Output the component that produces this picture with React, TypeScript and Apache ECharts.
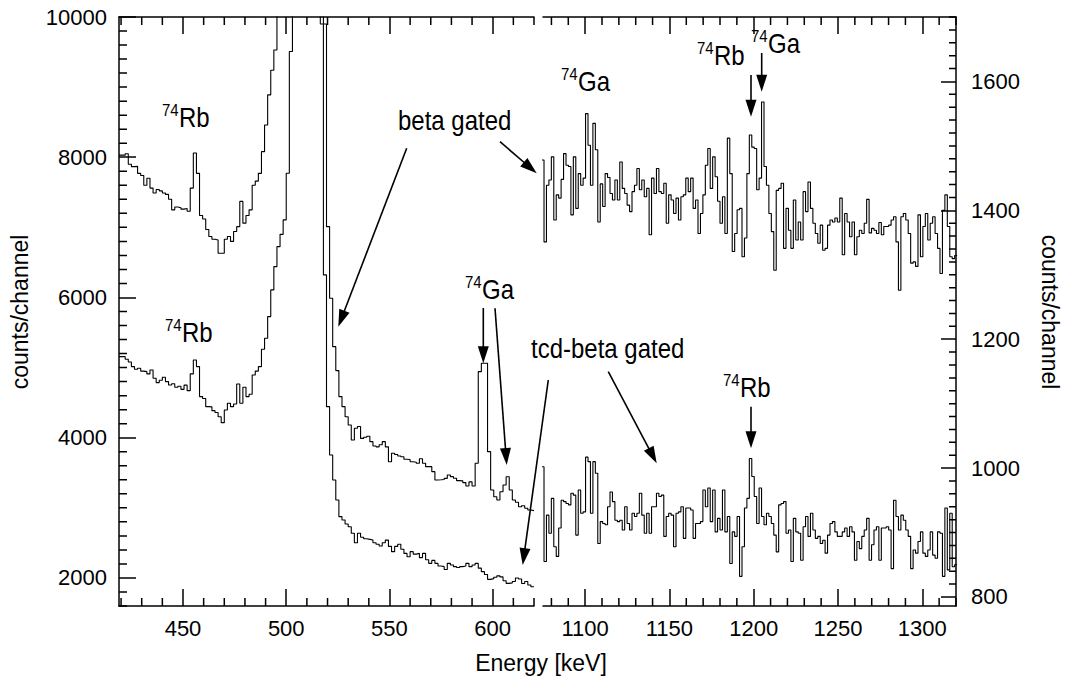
import React, { useEffect, useRef } from "react";
import * as echarts from "echarts";

// ---------------- axis ranges & ticks ----------------
const leftXRange = [419, 620];
const rightXRange = [1075, 1320];
const leftYRange = [1600, 10000];
const rightYRange = [786, 1700];

const leftMajorX = [450, 500, 550, 600];
const rightMajorX = [1100, 1150, 1200, 1250, 1300];
const leftMajorY = [2000, 4000, 6000, 8000, 10000];
const rightMajorY = [800, 1000, 1200, 1400, 1600];

const leftMinorX = [420, 430, 440, 460, 470, 480, 490, 510, 520, 530, 540, 560, 570, 580, 590, 610, 620];
const rightMinorX = [1080, 1090, 1110, 1120, 1130, 1140, 1160, 1170, 1180, 1190, 1210, 1220, 1230, 1240, 1260, 1270, 1280, 1290, 1310, 1320];
const leftMinorY = [1600, 1800, 2200, 2400, 2600, 2800, 3000, 3200, 3400, 3600, 3800, 4200, 4400, 4600, 4800, 5000, 5200, 5400, 5600, 5800, 6200, 6400, 6600, 6800, 7000, 7200, 7400, 7600, 7800, 8200, 8400, 8600, 8800, 9000, 9200, 9400, 9600, 9800];
const rightMinorY = [820, 840, 860, 880, 900, 920, 940, 960, 980, 1020, 1040, 1060, 1080, 1100, 1120, 1140, 1160, 1180, 1220, 1240, 1260, 1280, 1300, 1320, 1340, 1360, 1380, 1420, 1440, 1460, 1480, 1500, 1520, 1540, 1560, 1580, 1620, 1640, 1660, 1680, 1700];

// ---------------- histogram data (counts/channel per bin) ----------------
const leftBinStart = 419;
const leftBinWidth = 1.5;
const leftBetaGated = [
  8030, 8030, 8050, 7900, 7866, 7870, 7770, 7740, 7600, 7700,
  7560, 7490, 7540, 7520, 7490, 7470, 7400, 7250, 7290, 7280,
  7260, 7270, 7230, 7560, 8060, 7770, 7170, 7120, 6970, 6870,
  6830, 6820, 6630, 6630, 6830, 6870, 6800, 6940, 7010, 7370,
  7060, 7170, 7250, 7600, 7660, 7770, 8080, 8460, 8890, 9240,
  9530, 10500, 13000, 16000, 20000, 24000, 30000, 40000, 50000, 60000,
  60000, 50000, 40000, 30000, 20000, 9900, 9900, 7010, 5989, 5299,
  4957, 4586, 4443, 4300, 4182, 3968, 4135, 4160, 3990, 4006,
  4020, 3944, 3882, 3870, 3900, 3944, 3870, 3658, 3778, 3760,
  3740, 3729, 3692, 3690, 3658, 3650, 3635, 3700, 3635, 3587,
  3587, 3516, 3397, 3400, 3404, 3420, 3469, 3445, 3421, 3388,
  3385, 3360, 3312, 3370, 3312, 3635, 4942, 5062, 5062, 3801,
  3254, 3159, 3112, 3230, 3326, 3444, 3254, 3112, 3080, 3016,
  3030, 2995, 2969, 2960,
];
const leftTcdBetaGated = [
  5156, 5156, 5120, 5080, 5014, 4976, 4990, 4950, 4942, 4910,
  4966, 4848, 4786, 4820, 4862, 4800, 4752, 4770, 4719, 4735,
  4690, 4750, 4671, 4910, 5109, 5014, 4586, 4560, 4443, 4440,
  4386, 4360, 4300, 4215, 4396, 4491, 4443, 4480, 4767, 4491,
  4719, 4586, 4620, 4895, 4950, 5014, 5262, 5419, 5727, 6108,
  6440, 6725, 6900, 7106, 7772, 9508, 14000, 20000, 30000, 40000,
  50000, 50000, 40000, 30000, 20000, 14000, 6322, 4443, 3754, 3397,
  3112, 2874, 2827, 2770, 2731, 2637, 2503, 2637, 2580, 2560,
  2550, 2540, 2503, 2480, 2456, 2503, 2540, 2450, 2375, 2450,
  2480, 2410, 2350, 2303, 2375, 2340, 2350, 2290, 2350, 2260,
  2208, 2250, 2208, 2170, 2161, 2120, 2208, 2185, 2161, 2150,
  2161, 2170, 2208, 2161, 2185, 2208, 2140, 2090, 2050, 1980,
  1990, 2010, 2030, 2015, 1960, 1923, 1930, 1950, 2000, 1985,
  1920, 1950, 1900, 1875,
];

const rightBinStart = 1074.15;
const rightBinWidth = 1.45;
const rightBetaGated = [
  1478,
  1351, 1439, 1447, 1483, 1385, 1424, 1419, 1448, 1488, 1470,
  1468, 1393, 1483, 1403, 1457, 1439, 1450, 1550, 1501, 1439,
  1535, 1494, 1382, 1441, 1406, 1457, 1451, 1426, 1416, 1447,
  1416, 1475, 1434, 1426, 1408, 1398, 1429, 1439, 1465, 1432,
  1447, 1421, 1434, 1362, 1450, 1426, 1465, 1429, 1426, 1442,
  1380, 1424, 1416, 1395, 1419, 1385, 1421, 1424, 1450, 1429,
  1450, 1403, 1416, 1364, 1395, 1424, 1470, 1496, 1434, 1483,
  1452, 1414, 1380, 1421, 1364, 1512, 1457, 1336, 1364, 1401,
  1403, 1328, 1357, 1457, 1517, 1498, 1496, 1432, 1450, 1568,
  1468, 1439, 1395, 1367, 1307, 1431, 1434, 1442, 1341, 1403,
  1369, 1341, 1416, 1354, 1382, 1354, 1429, 1398, 1444, 1403,
  1380, 1364, 1349, 1377, 1338, 1341, 1377, 1385, 1382, 1388,
  1382, 1419, 1331, 1395, 1382, 1359, 1382, 1331, 1359, 1369,
  1364, 1380, 1417, 1365, 1372, 1369, 1364, 1381, 1362, 1375,
  1375, 1377, 1385, 1390, 1351, 1276, 1390, 1395, 1385, 1364,
  1318, 1320, 1313, 1393, 1328, 1375, 1395, 1354, 1380, 1390,
  1364, 1341, 1302, 1400, 1424, 1375, 1328, 1325, 1330,
];
const rightTcdBetaGated = [
  1002,
  855, 927, 899, 953, 878, 863, 907, 950, 948, 945,
  943, 961, 958, 896, 966, 930, 932, 1017, 1010, 930,
  1010, 992, 883, 917, 914, 912, 940, 963, 948, 919,
  917, 919, 904, 940, 914, 904, 930, 925, 930, 961,
  927, 899, 930, 899, 940, 940, 961, 956, 958, 894,
  925, 930, 927, 878, 930, 932, 940, 891, 938, 938,
  935, 891, 914, 914, 917, 966, 940, 969, 917, 966,
  901, 922, 904, 966, 901, 925, 852, 901, 894, 925,
  832, 878, 938, 953, 1015, 987, 956, 914, 969, 925,
  912, 930, 925, 914, 896, 870, 943, 945, 948, 899,
  904, 855, 922, 901, 899,
  857, 909, 925, 894, 930, 904, 891, 894, 883, 888,
  868, 896, 914, 917, 901, 894, 894, 901, 907, 894,
  909, 901, 857, 886, 875, 894, 904, 922, 857, 881,
  904, 909, 857, 907, 907, 909, 904, 844, 950, 925,
  904, 927, 919, 904, 894, 844, 873, 868, 886, 901,
  868, 863, 873, 901, 865, 860, 901, 899, 832, 938,
  842, 930, 847, 850,
];

// ---------------- layout ----------------
const FONT = "'Liberation Sans', Arial, Helvetica, sans-serif";
const LEFT_GRID = { left: 119, top: 17, width: 415, height: 589 };
const RIGHT_GRID = { left: 543, top: 17, width: 413, height: 589 };

function steps(start: number, width: number, values: number[]) {
  const pts: number[][] = [];
  values.forEach((v, i) => {
    const x0 = start + i * width;
    pts.push([x0, v], [x0 + width, v]);
  });
  return pts;
}

// minor tick marks as short broken line segments in data space
// (tick length in px converted to data units of each axis)
function tickSegments(
  xr: number[], yr: number[], g: { width: number; height: number },
  xs: number[], ys: number[], lenPx: number, ySide: "left" | "right", yLenPx: number
) {
  const dy = (lenPx * (yr[1] - yr[0])) / g.height;
  const dx = (yLenPx * (xr[1] - xr[0])) / g.width;
  const out: any[] = [];
  xs.forEach((v) => {
    out.push([v, yr[0]], [v, yr[0] + dy], null);
    out.push([v, yr[1]], [v, yr[1] - dy], null);
  });
  ys.forEach((v) => {
    if (ySide === "left") out.push([xr[0], v], [xr[0] + dx, v], null);
    else out.push([xr[1], v], [xr[1] - dx, v], null);
  });
  return out;
}

const axisLine = { show: true, lineStyle: { color: "#000", width: 1.5 } };
const plain = (v: number) => String(v);

function xAxis(grid: number, r: number[], pos: string, ticks: number[], labels: boolean) {
  return {
    type: "value", gridIndex: grid, min: r[0], max: r[1], position: pos,
    splitLine: { show: false }, axisLine,
    axisTick: { show: true, inside: true, length: 17, customValues: ticks, lineStyle: { color: "#000", width: 1.5 } },
    axisLabel: labels
      ? { show: true, customValues: ticks, margin: 11, fontSize: 22, color: "#000", fontFamily: FONT, formatter: plain }
      : { show: false },
  };
}

function yAxis(grid: number, r: number[], pos: string, ticks: number[], len: number, margin: number) {
  return {
    type: "value", gridIndex: grid, min: r[0], max: r[1], position: pos,
    splitLine: { show: false }, axisLine,
    axisTick: { show: true, inside: true, length: len, customValues: ticks, lineStyle: { color: "#000", width: 1.5 } },
    axisLabel: { show: true, customValues: ticks, margin, fontSize: 22, color: "#000", fontFamily: FONT, formatter: plain },
  };
}

function seg(x1: number, y1: number, x2: number, y2: number, w = 1.6) {
  return { type: "line", silent: true, shape: { x1, y1, x2, y2 }, style: { stroke: "#000", lineWidth: w } };
}

function arrow(x1: number, y1: number, x2: number, y2: number, headLen = 17, headW = 11) {
  const dx = x2 - x1, dy = y2 - y1;
  const L = Math.hypot(dx, dy);
  const ux = dx / L, uy = dy / L;
  const bx = x2 - ux * headLen, by = y2 - uy * headLen;
  const px = (-uy * headW) / 2, py = (ux * headW) / 2;
  return [
    seg(x1, y1, bx + ux * 2, by + uy * 2),
    { type: "polygon", shape: { points: [[x2, y2], [bx + px, by + py], [bx - px, by - py]] }, style: { fill: "#000" } },
  ];
}

function txt(text: string, x: number, y: number, size: number, align = "left") {
  return {
    type: "text", x, y, scaleY: 1.12,
    style: { text, fontSize: size, fontFamily: FONT, fill: "#000", align, verticalAlign: "middle" },
  };
}

function iso(mass: string, el: string, x: number, yEl: number) {
  return [txt(mass, x, yEl - 8, 15), txt(el, x + 17, yEl, 24)];
}

export default function App() {
  const ref = useRef<HTMLDivElement>(null);
  useEffect(() => {
    if (!ref.current) return;
    const chart = echarts.init(ref.current, undefined, { renderer: "svg" });
    const lineStyle = { color: "#000", width: 1.1 };
    const tickStyle = { color: "#000", width: 1.5 };
    const graphics: any[] = [
      { type: "text", x: 541, y: 663, style: { text: "Energy [keV]", fontSize: 23, fontFamily: FONT, fill: "#000", align: "center", verticalAlign: "middle" } },
      { type: "text", x: 20, y: 312, rotation: Math.PI / 2, style: { text: "counts/channel", fontSize: 23, fontFamily: FONT, fill: "#000", align: "center", verticalAlign: "middle" } },
      { type: "text", x: 1050, y: 312, rotation: -Math.PI / 2, style: { text: "counts/channel", fontSize: 23, fontFamily: FONT, fill: "#000", align: "center", verticalAlign: "middle" } },
      ...iso("74", "Rb", 162, 118),
      ...iso("74", "Rb", 165, 333),
      ...iso("74", "Ga", 465, 290),
      ...iso("74", "Ga", 561, 82),
      ...iso("74", "Rb", 697, 56),
      ...iso("74", "Ga", 751, 44),
      ...iso("74", "Rb", 723, 388),
      txt("beta gated", 398, 121, 24),
      txt("tcd-beta gated", 531, 349, 24),
      ...arrow(406.7, 148.3, 338.3, 326.7),
      ...arrow(500, 141.7, 536.7, 173.3),
      ...arrow(483.3, 308, 483.3, 363.3),
      ...arrow(495, 308.3, 506.7, 465),
      ...arrow(548.3, 380, 522.7, 565),
      ...arrow(608.3, 371.7, 656.7, 463.3),
      ...arrow(751, 75, 751, 116.7),
      ...arrow(761.7, 53, 761.7, 91.7),
      ...arrow(751, 406.7, 751, 448.3),
    ];
    const option: any = {
      animation: false,
      backgroundColor: "#fff",
      textStyle: { fontFamily: FONT },
      grid: [LEFT_GRID, RIGHT_GRID],
      xAxis: [
        xAxis(0, leftXRange, "bottom", leftMajorX, true),
        xAxis(0, leftXRange, "top", leftMajorX, false),
        xAxis(1, rightXRange, "bottom", rightMajorX, true),
        xAxis(1, rightXRange, "top", rightMajorX, false),
      ],
      yAxis: [
        yAxis(0, leftYRange, "left", leftMajorY, 17, 12),
        yAxis(1, rightYRange, "right", rightMajorY, 15, 15),
      ],
      series: [
        { name: "beta gated (low E)", type: "line", xAxisIndex: 0, yAxisIndex: 0, data: steps(leftBinStart, leftBinWidth, leftBetaGated), showSymbol: false, lineStyle, clip: true },
        { name: "tcd-beta gated (low E)", type: "line", xAxisIndex: 0, yAxisIndex: 0, data: steps(leftBinStart, leftBinWidth, leftTcdBetaGated), showSymbol: false, lineStyle, clip: true },
        { name: "beta gated (high E)", type: "line", xAxisIndex: 2, yAxisIndex: 1, data: steps(rightBinStart, rightBinWidth, rightBetaGated), showSymbol: false, lineStyle, clip: true },
        { name: "tcd-beta gated (high E)", type: "line", xAxisIndex: 2, yAxisIndex: 1, data: steps(rightBinStart, rightBinWidth, rightTcdBetaGated), showSymbol: false, lineStyle, clip: true },
        {
          name: "minor ticks left", type: "line", xAxisIndex: 0, yAxisIndex: 0, silent: true, clip: false,
          showSymbol: false, connectNulls: false, lineStyle: tickStyle,
          data: tickSegments(leftXRange, leftYRange, LEFT_GRID, leftMinorX, leftMinorY, 8, "left", 8),
        },
        {
          name: "minor ticks right", type: "line", xAxisIndex: 2, yAxisIndex: 1, silent: true, clip: false,
          showSymbol: false, connectNulls: false, lineStyle: tickStyle,
          data: tickSegments(rightXRange, rightYRange, RIGHT_GRID, rightMinorX, rightMinorY, 8, "right", 7),
        },
      ],
      graphic: graphics,
    };
    chart.setOption(option);
    return () => chart.dispose();
  }, []);
  return (
    <div
      ref={ref}
      style={{ position: "fixed", left: 0, top: 0, width: 1068, height: 677, background: "#fff" }}
    />
  );
}
